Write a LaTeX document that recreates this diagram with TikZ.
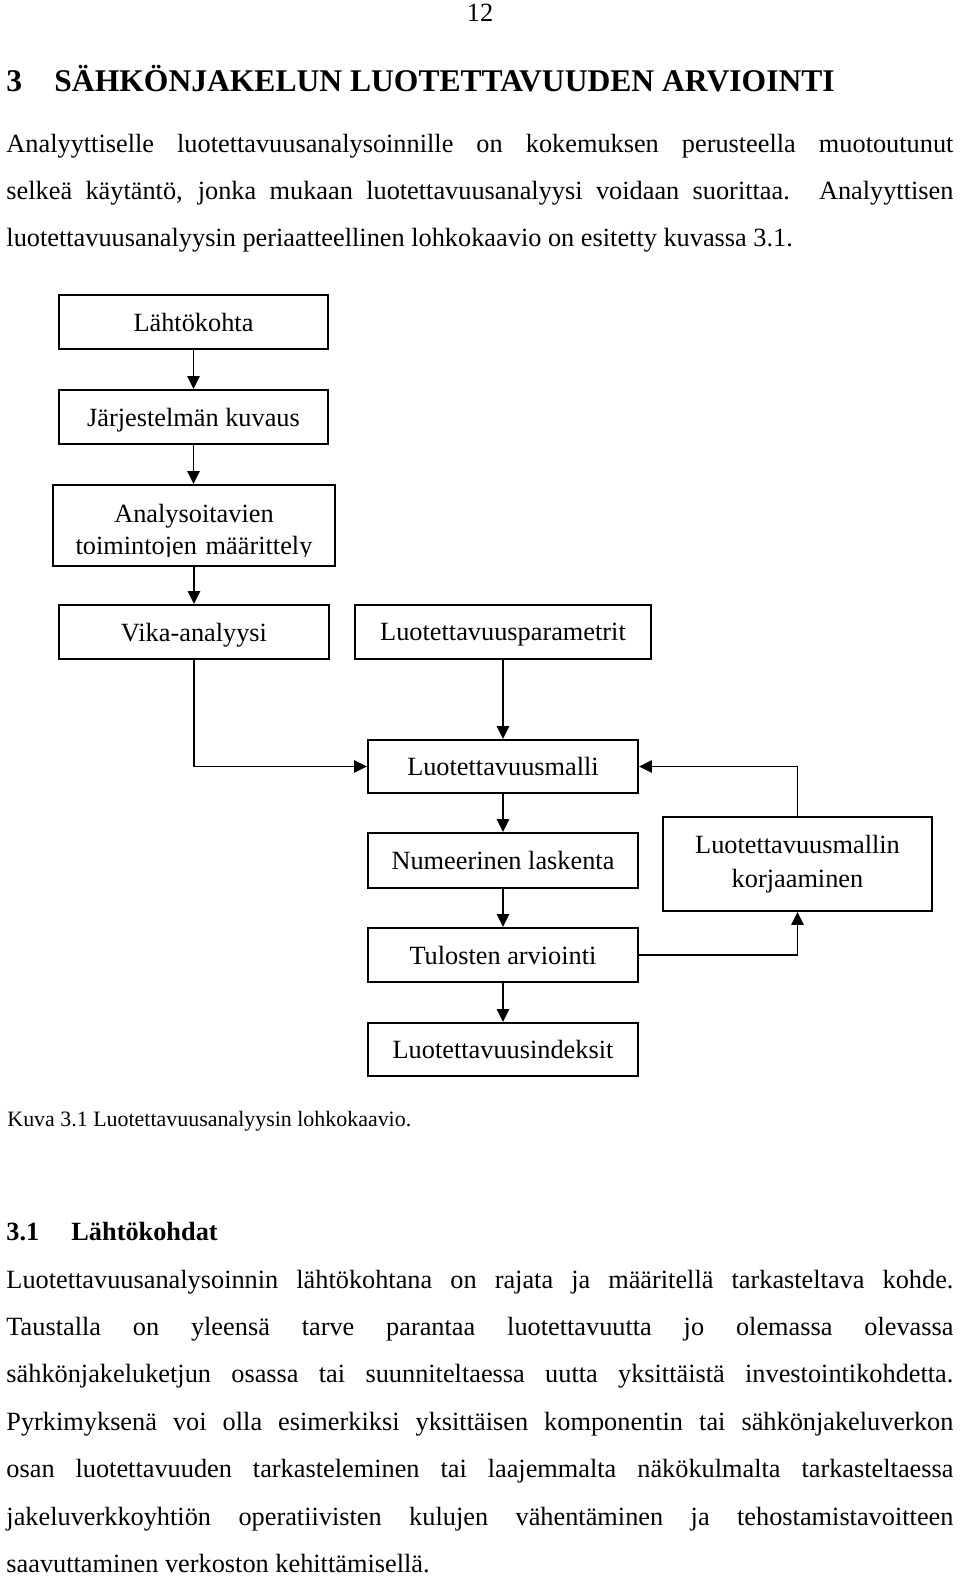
\documentclass[tikz,border=0pt]{standalone}
\usepackage{fontspec}
\setmainfont{Liberation Serif}
\usetikzlibrary{arrows.meta}
\tolerance=10000
\hyphenpenalty=10000
\exhyphenpenalty=10000

\tikzset{
  laatikko/.style={draw, line width=0.9pt, inner sep=0pt, minimum width=122.7pt, minimum height=24.6pt, text depth=0pt, font=\fontsize{12}{15}\selectfont},
  nuoli/.style={line width=0.9pt, -{Triangle[length=5.9pt,width=5.6pt]}},
  leipa/.style={anchor=base west, inner sep=0pt, text width=431.8pt, align=justify, font=\fontsize{12}{21.65}\selectfont}
}

\begin{document}
\begin{tikzpicture}[x=0.456pt, y=-0.456pt]

\useasboundingbox (0,0) rectangle (960,1576);											% Sivu

\node (sivunro) [anchor=base, inner sep=0pt, font=\fontsize{12}{14}\selectfont] at (480,22) {12};			% Sivunumero
\node (lukunro) [anchor=base west, inner sep=0pt, font=\bfseries\fontsize{14.4}{16}\selectfont] at (6,92) {3};
\node (otsikko) [anchor=base west, inner sep=0pt, font=\bfseries\fontsize{14.4}{16}\selectfont] at (54,92) {SÄHKÖNJAKELUN LUOTETTAVUUDEN ARVIOINTI};

\node (kpl1) [leipa] at (6,152) {Analyyttiselle luotettavuusanalysoinnille on kokemuksen perusteella muotoutunut\linebreak
selkeä käytäntö, jonka mukaan luotettavuusanalyysi voidaan suorittaa. Analyyttisen\linebreak
luotettavuusanalyysin periaatteellinen lohkokaavio on esitetty kuvassa 3.1.};

% Lohkokaavio
\node (lahto) [laatikko] at (193.5,322) {Lähtökohta};
\node (jarj) [laatikko] at (193.5,417) {Järjestelmän kuvaus};
\node (analys) [laatikko, minimum width=128.6pt, minimum height=36.9pt] at (194,525.5) {};
\begin{scope}
\clip (53,485) rectangle (335,556);												% teksti leikattu laatikon alareunasta
\node (analysteksti) [anchor=base, inner sep=0pt, text width=128pt, align=center, font=\fontsize{12}{15}\selectfont] at (194,522) {Analysoitavien\\toimintojen määrittely};
\end{scope}
\node (vika) [laatikko, minimum width=123.1pt] at (194,632) {Vika-analyysi};
\node (param) [laatikko, minimum width=135pt] at (503,632) {Luotettavuusparametrit};
\node (malli) [laatikko, minimum width=123.1pt, minimum height=24.2pt] at (503,766.5) {Luotettavuusmalli};
\node (numeer) [laatikko, minimum width=123.1pt, minimum height=25.1pt] at (503,860.5) {Numeerinen laskenta};
\node (korj) [laatikko, text depth=, align=center, minimum height=42.9pt, font=\fontsize{12}{15.5}\selectfont] at (797.5,864) {Luotettavuusmallin\\korjaaminen};
\node (tulos) [laatikko, minimum width=123.1pt] at (503,955) {Tulosten arviointi};
\node (indeks) [laatikko, minimum width=123.1pt, minimum height=24.2pt] at (503,1049.5) {Luotettavuusindeksit};

\draw[nuoli] (lahto.south) -- (lahto.south |- jarj.north);
\draw[nuoli] (jarj.south) -- (jarj.south |- analys.north);
\draw[nuoli] (analys.south) -- (analys.south |- vika.north);
\draw[nuoli] (vika.south) |- (malli.west);									% Vika-analyysi malliin
\draw[nuoli] (param.south) -- (malli.north);
\draw[nuoli] (malli.south) -- (numeer.north);
\draw[nuoli] (numeer.south) -- (tulos.north);
\draw[nuoli] (tulos.south) -- (indeks.north);
\draw[nuoli] (tulos.east) -| (korj.south);									% arvioinnista korjaukseen
\draw[nuoli] (korj.north) |- (malli.east);									% korjaus takaisin malliin

\node (kuvateksti) [anchor=base west, inner sep=0pt, font=\fontsize{10}{12}\selectfont] at (7,1126) {Kuva 3.1 Luotettavuusanalyysin lohkokaavio.};

\node (aliluku) [anchor=base west, inner sep=0pt, font=\bfseries\fontsize{12}{14}\selectfont] at (6,1240) {3.1};
\node (aliotsikko) [anchor=base west, inner sep=0pt, font=\bfseries\fontsize{12}{14}\selectfont] at (71,1240) {Lähtökohdat};

\node (kpl2) [leipa] at (6,1288) {Luotettavuusanalysoinnin lähtökohtana on rajata ja määritellä tarkasteltava kohde.\linebreak
Taustalla on yleensä tarve parantaa luotettavuutta jo olemassa olevassa\linebreak
sähkönjakeluketjun osassa tai suunniteltaessa uutta yksittäistä investointikohdetta.\linebreak
Pyrkimyksenä voi olla esimerkiksi yksittäisen komponentin tai sähkönjakeluverkon\linebreak
osan luotettavuuden tarkasteleminen tai laajemmalta näkökulmalta tarkasteltaessa\linebreak
jakeluverkkoyhtiön operatiivisten kulujen vähentäminen ja tehostamistavoitteen\linebreak
saavuttaminen verkoston kehittämisellä.};

\end{tikzpicture}
\end{document}
